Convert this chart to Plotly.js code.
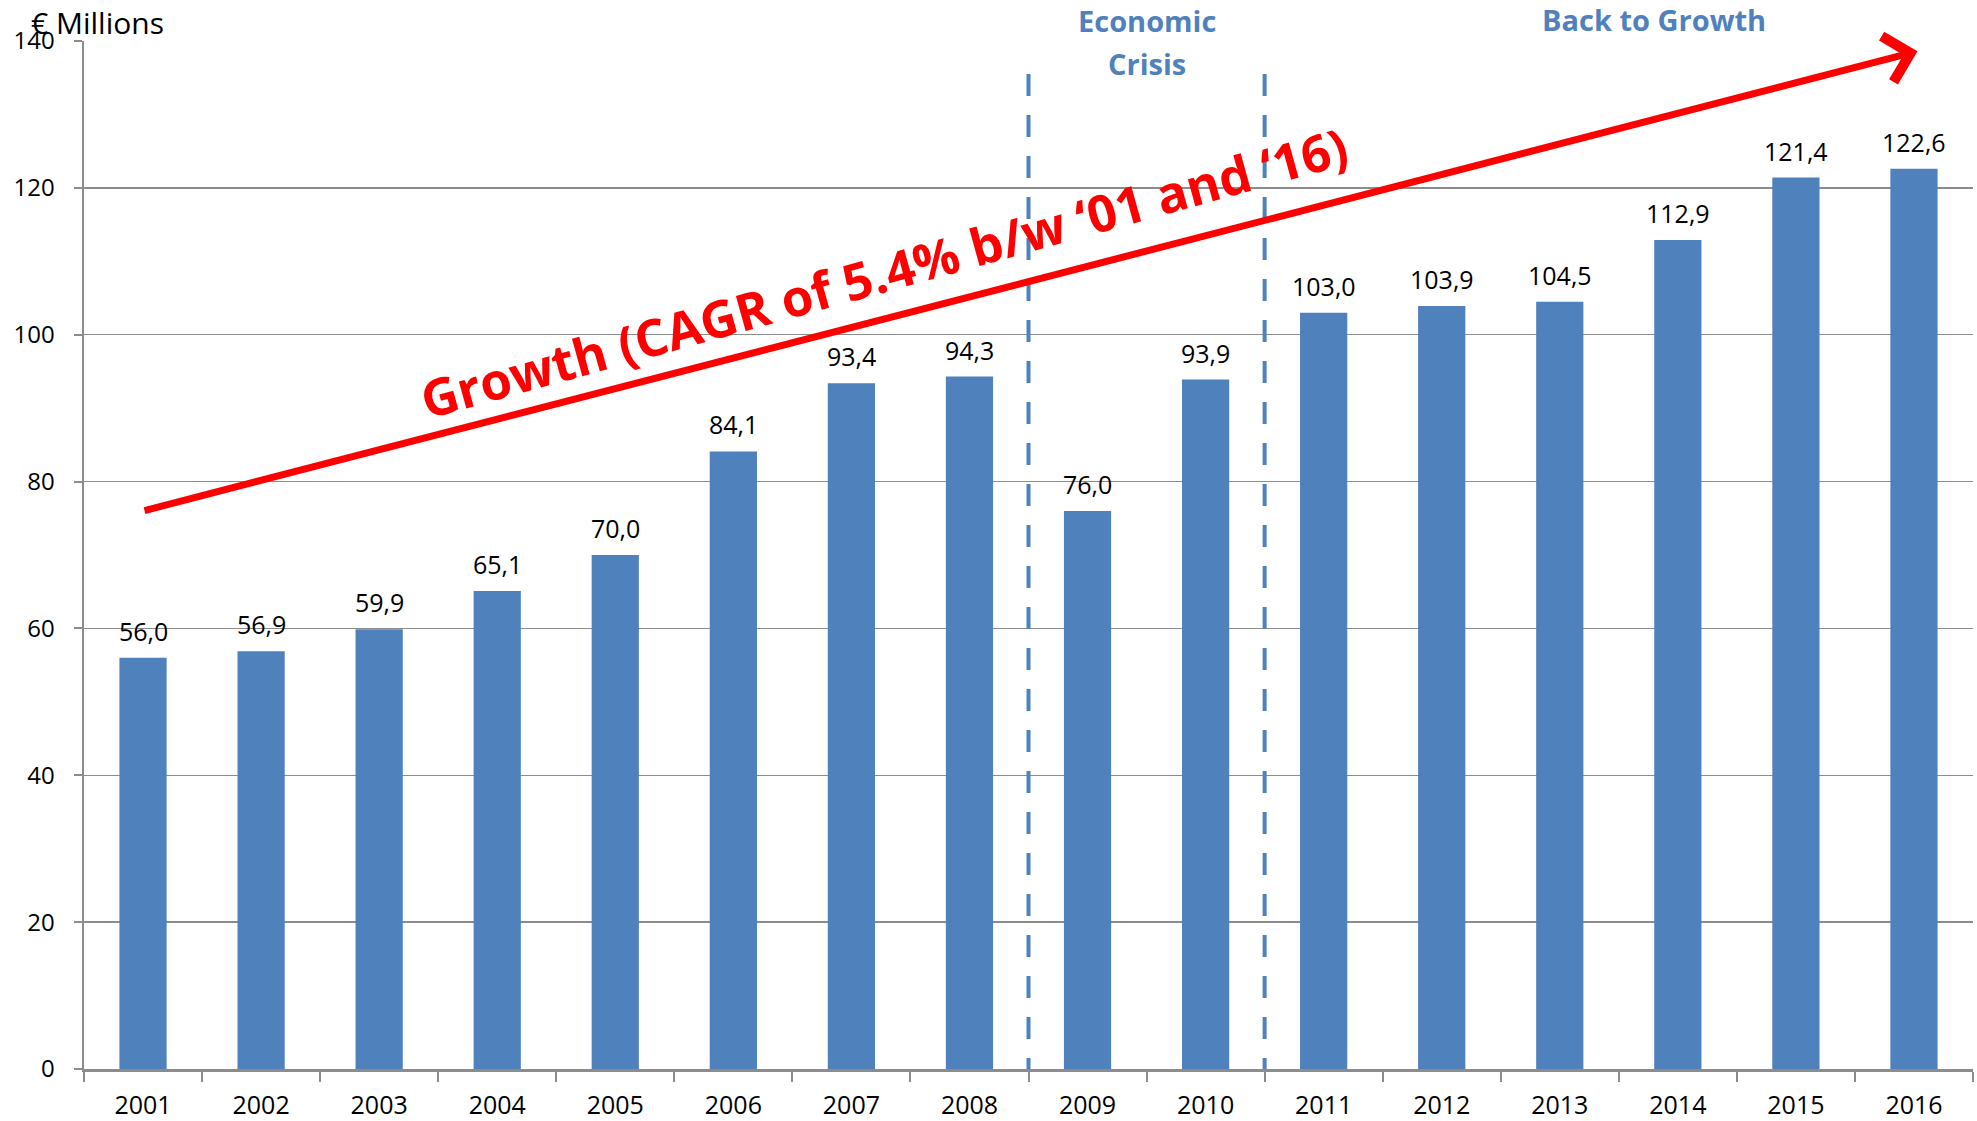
<!DOCTYPE html>
<html>
<head>
<meta charset="utf-8">
<script src="https://cdn.plot.ly/plotly-3.0.1.min.js"></script>
<style>html,body{margin:0;padding:0;background:#fff;}#chart{width:1977px;height:1121px;}</style>
</head>
<body>
<div id="chart"></div>
<script>
const years = ['2001','2002','2003','2004','2005','2006','2007','2008','2009','2010','2011','2012','2013','2014','2015','2016'];
const revenue = [56.0, 56.9, 59.9, 65.1, 70.0, 84.1, 93.4, 94.3, 76.0, 93.9, 103.0, 103.9, 104.5, 112.9, 121.4, 122.6];
const yTicks = [0, 20, 40, 60, 80, 100, 120, 140];
const unitLabel = '€ Millions';
const crisisLabel1 = 'Economic';
const crisisLabel2 = 'Crisis';
const growthLabel = 'Back to Growth';
const cagrLabel = 'Growth (CAGR of 5.4% b/w ‘01 and ‘16)';
const trendStart = 76;   // arrow start value at 2001
const trendEnd = 138.6;  // arrow tip value at 2016

const barColor = '#4F81BD';
const gridColor = '#8C8C8C';
const fmt = v => v.toFixed(1).replace('.', ',');

const labelAnnotations = years.map((yr, i) => ({
  x: i, y: revenue[i], xref: 'x', yref: 'y',
  text: fmt(revenue[i]), showarrow: false,
  yanchor: 'bottom', yshift: 8,
  font: {family: 'Open Sans', size: 25, color: '#000'}
}));

const data = [{
  type: 'bar', x: years, y: revenue,
  marker: {color: barColor},
  hoverinfo: 'skip'
}];

const layout = {
  width: 1977, height: 1121,
  margin: {l: 84, r: 4, t: 41, b: 52},
  paper_bgcolor: '#fff', plot_bgcolor: '#fff',
  showlegend: false,
  bargap: 0.6,
  font: {family: 'Open Sans', color: '#000'},
  xaxis: {
    type: 'category', range: [-0.5, years.length - 0.5], autorange: false,
    showgrid: false,
    showline: true, linecolor: gridColor, linewidth: 2.5,
    ticks: 'outside', tickson: 'boundaries', ticklen: 10, tickcolor: gridColor, tickwidth: 2,
    tickfont: {family: 'Open Sans', size: 25, color: '#000'},
    ticklabelstandoff: 12, tickangle: 0,
    zeroline: false
  },
  yaxis: {
    range: [0, 140], autorange: false, tickvals: yTicks,
    showgrid: true, gridcolor: gridColor, gridwidth: 1.5,
    showline: true, linecolor: gridColor, linewidth: 2.5,
    ticks: 'outside', ticklen: 8, tickcolor: gridColor, tickwidth: 2,
    tickfont: {family: 'Open Sans', size: 24, color: '#000'},
    ticklabelstandoff: 14,
    zeroline: false
  },
  shapes: [7.5, 9.5].map(xv => ({
    type: 'line', xref: 'x', yref: 'y', x0: xv, x1: xv, y0: 135.5, y1: -2,
    line: {color: barColor, width: 4, dash: '22px,19px'}, layer: 'above'
  })),
  annotations: labelAnnotations.concat([
    {xref: 'paper', yref: 'paper', x: -0.029, y: 1.018, xanchor: 'left', yanchor: 'middle',
     text: unitLabel, showarrow: false, font: {family: 'Open Sans', size: 30, color: '#000'}},
    {xref: 'x', yref: 'paper', x: 8.5, y: 1.02, xanchor: 'center', yanchor: 'middle',
     text: crisisLabel1, showarrow: false,
     font: {family: 'Open Sans', size: 29, color: barColor, weight: 'bold'}},
    {xref: 'x', yref: 'paper', x: 8.5, y: 0.978, xanchor: 'center', yanchor: 'middle',
     text: crisisLabel2, showarrow: false,
     font: {family: 'Open Sans', size: 29, color: barColor, weight: 'bold'}},
    {xref: 'x', yref: 'paper', x: 12.8, y: 1.021, xanchor: 'center', yanchor: 'middle',
     text: growthLabel, showarrow: false,
     font: {family: 'Open Sans', size: 29, color: barColor, weight: 'bold'}},
    {xref: 'x', yref: 'y', x: 15.03, y: trendEnd, axref: 'x', ayref: 'y', ax: 0, ay: trendStart,
     text: '', showarrow: true, arrowhead: 4, arrowsize: 1.3, arrowwidth: 7, arrowcolor: '#FF0000', standoff: 0},
    {xref: 'x', yref: 'y', x: 6.27, y: 108.6, xanchor: 'center', yanchor: 'middle',
     text: cagrLabel, showarrow: false, textangle: -15.5,
     font: {family: 'Open Sans', size: 51, color: '#FF0000', weight: 'bold'}}
  ])
};

Plotly.newPlot('chart', data, layout, {displayModeBar: false, staticPlot: true});
</script>
</body>
</html>
